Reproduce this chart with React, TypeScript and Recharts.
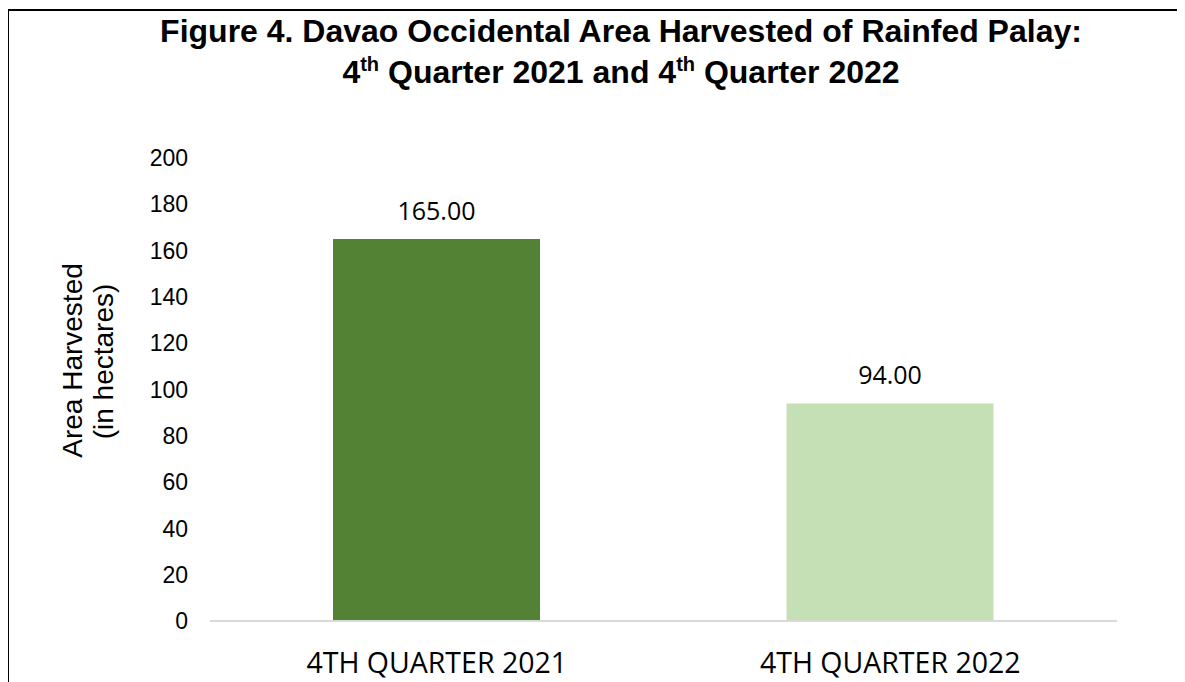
import React from 'react';
import { BarChart, Bar, XAxis, YAxis, Cell, LabelList } from 'recharts';

const categories = ['4TH QUARTER 2021', '4TH QUARTER 2022'];
const areaHarvested = [165, 94];
const barColors = ['#548235', '#C5E0B4'];
const yTicks = [0, 20, 40, 60, 80, 100, 120, 140, 160, 180, 200];
const titleLine1 = 'Figure 4. Davao Occidental Area Harvested of Rainfed Palay:';
const yLabelLine1 = 'Area Harvested';
const yLabelLine2 = '(in hectares)';

const data = categories.map((c, i) => ({ name: c, value: areaHarvested[i] }));

export default function App() {
  return (
    <div style={{ position: 'relative', width: 1177, height: 674 }}>
      <div style={{ position: 'absolute', left: -1, top: 1, width: 2, height: 673, background: '#000' }} />
      <div style={{ position: 'absolute', left: -1, top: 1, width: 1178, height: 2, background: '#000' }} />
      <BarChart
        width={1177}
        height={674}
        data={data}
        margin={{ top: 150, right: 68, left: 0, bottom: 0 }}
        barSize={207}
      >
        <XAxis
          dataKey="name"
          height={61}
          tickLine={false}
          tickSize={0}
          tickMargin={32}
          axisLine={{ stroke: '#d9d9d9', strokeWidth: 2 }}
          tick={{ fill: '#000', fontSize: 28.5, fontFamily: 'Open Sans' }}
        />
        <YAxis
          width={202}
          domain={[0, 200]}
          ticks={yTicks}
          interval={0}
          axisLine={false}
          tickLine={false}
          tickSize={0}
          tickMargin={22}
          tick={{ fill: '#000', fontSize: 23, fontFamily: 'Liberation Sans' }}
        />
        <Bar dataKey="value" isAnimationActive={false}>
          {data.map((d, i) => (
            <Cell key={d.name} fill={barColors[i]} />
          ))}
          <LabelList
            dataKey="value"
            position="top"
            offset={19}
            formatter={(v: any) => Number(v).toFixed(2)}
            style={{ fill: '#000', fontSize: 25, fontFamily: 'Open Sans' }}
          />
        </Bar>
      </BarChart>
      <svg
        width={1185}
        height={682}
        style={{ position: 'absolute', left: -8, top: -8, pointerEvents: 'none' }}
      >
        <g fontFamily="Liberation Sans" fontWeight="bold" fontSize={32} fill="#000">
          <text x={621} y={42} textAnchor="middle">{titleLine1}</text>
          <text x={621} y={83} textAnchor="middle">
            <tspan>4</tspan>
            <tspan fontSize={20} dy={-12}>th</tspan>
            <tspan dy={12}> Quarter 2021 and 4</tspan>
            <tspan fontSize={20} dy={-12}>th</tspan>
            <tspan dy={12}> Quarter 2022</tspan>
          </text>
        </g>
        <g fontFamily="Liberation Sans" fontSize={28} fill="#000">
          <text x={82} y={360.5} textAnchor="middle" transform="rotate(-90, 82, 360.5)">{yLabelLine1}</text>
          <text x={113} y={361.5} textAnchor="middle" transform="rotate(-90, 113, 361.5)">{yLabelLine2}</text>
        </g>
      </svg>
    </div>
  );
}
